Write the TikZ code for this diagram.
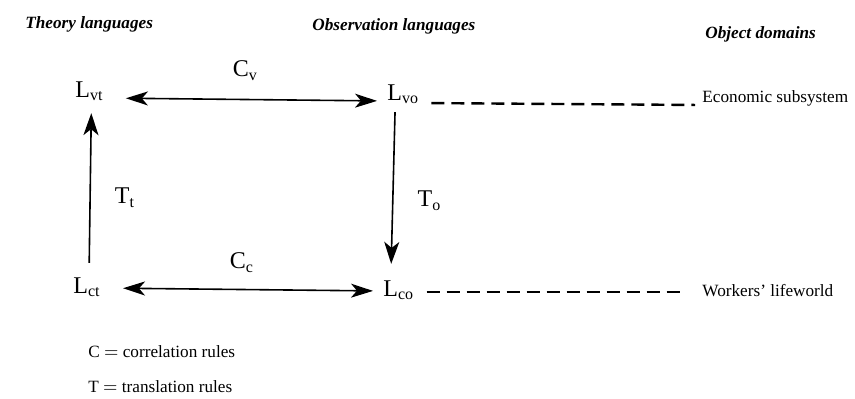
\documentclass[tikz,border=0pt]{standalone}
\usepackage{fontspec}
\setmainfont{Liberation Serif}
\usepackage{tikz}
\usetikzlibrary{arrows.meta,positioning}

\begin{document}
\begin{tikzpicture}[x=0.5pt, y=-0.5pt,
lang/.style={inner sep=0pt, anchor=base west, font=\fontsize{12}{14}\selectfont},
headtext/.style={inner sep=0pt, anchor=base west, font=\fontsize{8.6}{10}\selectfont\bfseries\itshape},
objtext/.style={inner sep=0pt, anchor=base west, font=\fontsize{8.6}{10}\selectfont},
rulelabel/.style={inner sep=0pt, font=\fontsize{12}{14}\selectfont},
corr/.style={{Stealth[length=11pt,width=7pt,inset=3pt]}-{Stealth[length=11pt,width=7pt,inset=3pt]}, line width=0.8pt},
trans/.style={-{Stealth[length=11pt,width=7.5pt,inset=3pt]}, line width=0.8pt},
link/.style={line width=1.2pt, dash pattern=on 6.5pt off 3.5pt}
]
\useasboundingbox (0,0) rectangle (855,398);
% column headings
\node[headtext] (theory) at (25,28) {Theory languages};
\node[headtext] (obs) at (312,30) {Observation languages};
\node[headtext] (objdom) at (705,38) {Object domains};
% languages
\node[lang] (lvt) at (75,97) {L\textsubscript{vt}};
\node[lang] (lvo) at (387,100) {L\textsubscript{vo}};
\node[lang] (lct) at (73,293) {L\textsubscript{ct}};
\node[lang] (lco) at (383,296) {L\textsubscript{co}};
% object domains
\node[objtext] (econ) at (702,102) {Economic subsystem};
\node[objtext] (life) at (702,296) {Workers' lifeworld};
% rules
\draw[corr, shorten <=11pt, shorten >=5pt] ([yshift=-0.5pt]lvt.base east) -- node[rulelabel, above=9pt]{C\textsubscript{v}} ([yshift=-0.5pt]lvo.base west);
\draw[corr, shorten <=11pt, shorten >=5pt] ([yshift=2.5pt]lct.base east) -- node[rulelabel, above=8pt]{C\textsubscript{c}} ([yshift=2.5pt]lco.base west);
\draw[trans, shorten <=7pt, shorten >=6pt] ([xshift=1pt]lct.north) -- node[rulelabel, pos=0.45, right=12pt]{T\textsubscript{t}} ([xshift=1pt]lvt.south);
\draw[trans, shorten <=4pt, shorten >=8pt] ([xshift=-4pt]lvo.south) -- node[rulelabel, pos=0.55, right=12pt]{T\textsubscript{o}} ([xshift=-4pt]lco.north);
% links to domains
\draw[link, shorten <=6pt, shorten >=3.5pt] ([yshift=-1.5pt]lvo.base east) -- ([yshift=-1.5pt]econ.base west);
\draw[link, shorten <=6pt, shorten >=8pt] ([yshift=2pt]lco.base east) -- ([yshift=2pt]life.base west);
% legend
\node[objtext] (cleg) at (88,357) {C $=$ correlation rules};
\node[objtext] (tleg) at (88,392) {T $=$ translation rules};
\end{tikzpicture}
\end{document}
